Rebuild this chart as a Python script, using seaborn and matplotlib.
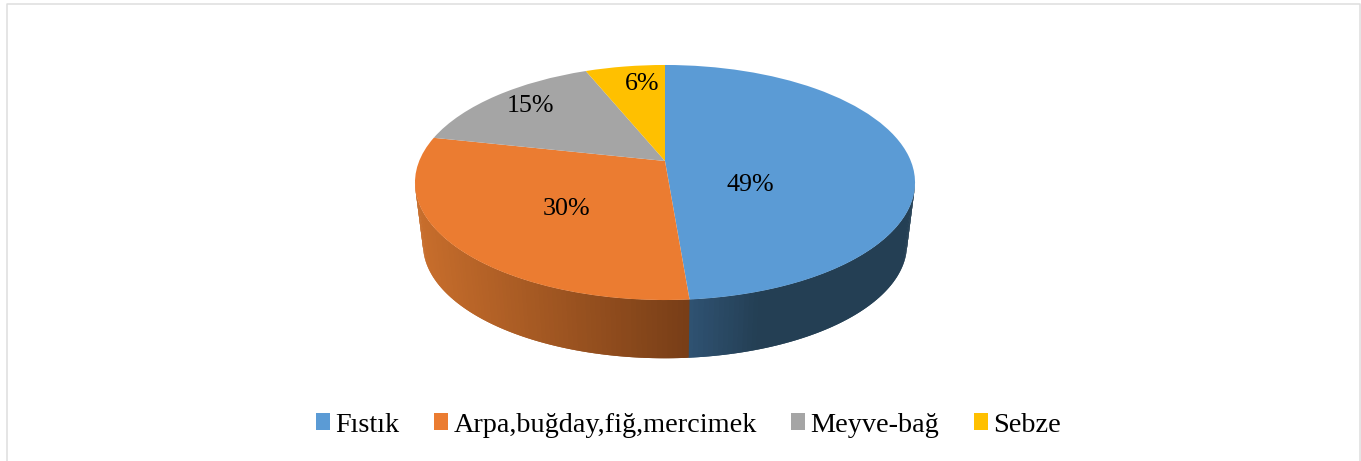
import numpy as np
import matplotlib
matplotlib.use("Agg")
import matplotlib.pyplot as plt
import matplotlib.transforms as mtransforms
from matplotlib.patches import Patch
import seaborn as sns

# data
categories = ["Fıstık", "Arpa,buğday,fiğ,mercimek", "Meyve-bağ", "Sebze"]
values = [48.7, 29.7, 15.45, 6.15]
slice_colors = ["#5B9BD5", "#EB7C31", "#A5A5A5", "#FFC000"]

sns.set_theme(style="white")
plt.rcParams["font.family"] = ["Liberation Serif", "DejaVu Serif"]

W, H = 1361, 461
# perspective of the disc, in pixels
cx, apex_y, ell_y = 665, 161, 182
a, b, c = 0.183, 113.6, 245.8
s_bottom, dy_bottom = 0.968, 62


def project(u, v):
    d = 1 + a * v
    return cx + c * u / d, apex_y - b * v / d


class Persp(mtransforms.Transform):
    input_dims = 2
    output_dims = 2

    def transform_non_affine(self, xy):
        xy = np.asarray(xy)
        px, py = project(xy[:, 0], xy[:, 1])
        return np.column_stack([px, py])


fig = plt.figure(figsize=(W / 100, H / 100), dpi=100)
ax = fig.add_axes([0, 0, 1, 1])
wedges, _ = ax.pie(values, colors=sns.color_palette(slice_colors), startangle=90,
                   counterclock=False, wedgeprops={"linewidth": 0})
ax.set_aspect("auto")
ax.set_xlim(0, W)
ax.set_ylim(H, 0)
ax.axis("off")
for w in wedges:
    w.set_transform(Persp() + ax.transData)
    w.set_zorder(3)


def mix(c1, c2, f):
    return tuple(np.array(c1) * (1 - f) + np.array(c2) * f)


def rgb(h):
    return matplotlib.colors.to_rgb(h)


def wall_color(t, split):
    px = project(np.sin(t), np.cos(t))[0]
    if t > split:
        f = (px - 416) / (688 - 416)
        return mix(rgb("#C86E2C"), rgb("#783E17"), np.clip(f, 0, 1))
    f = (px - 690) / (760 - 690)
    return mix(rgb("#2F5272"), rgb("#243F54"), np.clip(f, 0, 1))


def bottom_of(x, y):
    return cx + s_bottom * (x - cx), ell_y + dy_bottom + s_bottom * (y - ell_y)


# side wall of the front half, each quad overlaps the next so no seams show
split = np.deg2rad(values[0] / sum(values) * 360)
t_right = np.arccos(-a)
t_left = 2 * np.pi - t_right
ts = np.sort(np.append(np.linspace(t_right, t_left, 160), split))
for i in range(len(ts) - 1):
    t0 = ts[i]
    t1 = ts[min(i + 2, len(ts) - 1)]
    x0, y0 = project(np.sin(t0), np.cos(t0))
    x1, y1 = project(np.sin(t1), np.cos(t1))
    xb0, yb0 = bottom_of(x0, y0)
    xb1, yb1 = bottom_of(x1, y1)
    col = wall_color((ts[i] + ts[i + 1]) / 2, split)
    ax.fill([x0, x1, xb1, xb0], [y0, y1, yb1, yb0], color=col, lw=0, zorder=2)

# percent labels
label_xy = [(750, 185), (567, 209), (530, 106), (642, 84)]
for v, (x, y) in zip(values, label_xy):
    ax.text(x, y, f"{round(v)}%", ha="center", va="center", fontsize=18.7, color="black", zorder=5)

# frame
ax.plot([7, 7, 1360, 1360], [H, 4, 4, H], color="#DEDEDE", lw=1.1, zorder=1)

handles = [Patch(color=col, lw=0) for col in slice_colors]
ax.legend(handles, categories, loc="center", bbox_to_anchor=(688.5 / W, 1 - 425 / H), ncol=4,
          frameon=False, fontsize=20.35, handlelength=0.5, handleheight=0.5, handletextpad=0.18,
          columnspacing=1.22, labelcolor="black")

fig.savefig("out.png", dpi=100)
